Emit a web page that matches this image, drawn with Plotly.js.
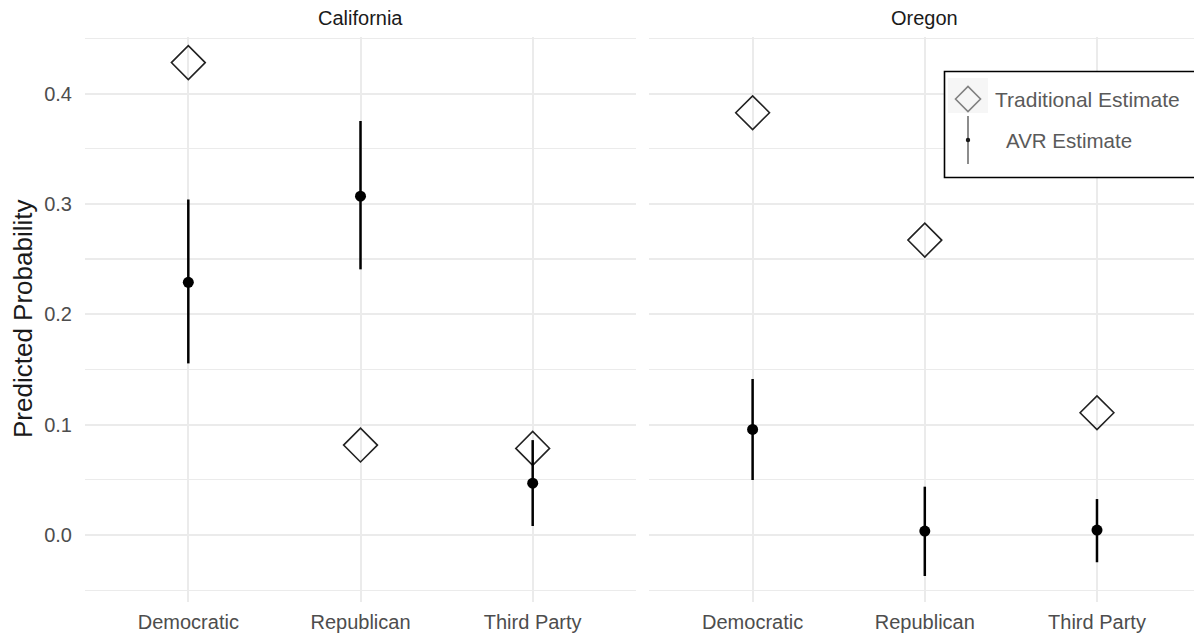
<!DOCTYPE html>
<html>
<head>
<meta charset="utf-8">
<script src="https://cdn.plot.ly/plotly-3.0.1.min.js"></script>
<style>html,body{margin:0;padding:0;background:#fff;}#chart{width:1194px;height:635px;}</style>
</head>
<body>
<div id="chart"></div>
<script>
// ---- data ----
const categories = ['Democratic', 'Republican', 'Third Party'];
const panels = ['California', 'Oregon'];

const caTraditional = [0.428, 0.0815, 0.0785];
const caAVR = [0.229, 0.307, 0.047];
const caLower = [0.1555, 0.2407, 0.0082];
const caUpper = [0.304, 0.375, 0.086];

const orTraditional = [0.3826, 0.2672, 0.1108];
const orAVR = [0.0957, 0.0036, 0.0045];
const orLower = [0.0498, -0.0371, -0.0247];
const orUpper = [0.1413, 0.0438, 0.0326];

const yTickVals = [0.0, 0.1, 0.2, 0.3, 0.4];
const yTickText = ['0.0', '0.1', '0.2', '0.3', '0.4'];
const legendLabels = ['Traditional Estimate', 'AVR Estimate'];

// ---- layout helpers ----
const W = 1194, H = 635;
const px = x => x / W;
const py = y => 1 - y / H;
const FONT = 'Liberation Sans, Arial, Helvetica, sans-serif';

function tradTrace(vals, xa, ya) {
  return {
    type: 'scatter', mode: 'markers', x: categories, y: vals,
    xaxis: xa, yaxis: ya, showlegend: false, hoverinfo: 'skip',
    marker: {symbol: 'diamond-open', size: 26, color: '#222222', line: {width: 1.6, color: '#222222'}}
  };
}
function avrTrace(vals, lo, hi, xa, ya) {
  return {
    type: 'scatter', mode: 'markers', x: categories, y: vals,
    xaxis: xa, yaxis: ya, showlegend: false, hoverinfo: 'skip',
    marker: {symbol: 'circle', size: 11, color: '#000000'},
    error_y: {
      type: 'data', symmetric: false,
      array: hi.map((h, i) => h - vals[i]),
      arrayminus: lo.map((l, i) => vals[i] - l),
      width: 0, thickness: 2.5, color: '#000000'
    }
  };
}

const data = [
  tradTrace(caTraditional, 'x', 'y'),
  avrTrace(caAVR, caLower, caUpper, 'x', 'y'),
  tradTrace(orTraditional, 'x2', 'y2'),
  avrTrace(orAVR, orLower, orUpper, 'x2', 'y2')
];

const unit = (636 - 85) / 3.2;
const yRange = [-0.0604, 0.4513];
const yDomain = [1 - 601.7 / H, 1 - 36.9 / H];

function xAxis(domain, range) {
  return {
    type: 'category', categoryarray: categories, domain: domain, range: range,
    showgrid: true, gridcolor: '#ebebeb', gridwidth: 2, zeroline: false, showline: false,
    ticks: '', ticklabelstandoff: 6, automargin: false,
    tickfont: {family: FONT, size: 20, color: '#4d4d4d'}
  };
}
function yAxis(anchor, showLabels) {
  return {
    anchor: anchor, domain: yDomain, range: yRange,
    tickvals: yTickVals, ticktext: yTickText, showticklabels: showLabels,
    showgrid: true, gridcolor: '#ebebeb', gridwidth: 2, zeroline: false, showline: false,
    ticks: '', ticklabelstandoff: 12, automargin: false,
    minor: {tickvals: [-0.05, 0.05, 0.15, 0.25, 0.35, 0.45], showgrid: true, gridcolor: '#ebebeb', gridwidth: 1.2},
    tickfont: {family: FONT, size: 20, color: '#4d4d4d'}
  };
}

const yA = yAxis('x', true);
yA.showticklabels = true;
const yB = yAxis('x2', false);
yB.matches = 'y';

const rightWidth = W - 649.3;

const layout = {
  width: W, height: H,
  margin: {l: 0, r: 0, t: 0, b: 0},
  paper_bgcolor: '#ffffff', plot_bgcolor: 'rgba(0,0,0,0)',
  showlegend: false, hovermode: false,
  font: {family: FONT},
  xaxis: xAxis([px(85), px(636)], [-0.6, 2.6]),
  xaxis2: xAxis([px(649.3), 1], [-0.6, -0.6 + rightWidth / unit]),
  yaxis: yA,
  yaxis2: yB,
  annotations: [
    {text: 'Predicted Probability', xref: 'paper', yref: 'paper', x: px(23), y: py(319), xanchor: 'center', yanchor: 'middle',
     textangle: -90, showarrow: false, font: {family: FONT, size: 26, color: '#1a1a1a'}},
    {text: panels[0], xref: 'paper', yref: 'paper', x: px(360.5), y: py(18), xanchor: 'center', yanchor: 'middle',
     showarrow: false, font: {family: FONT, size: 20, color: '#1a1a1a'}},
    {text: panels[1], xref: 'paper', yref: 'paper', x: px(924.5), y: py(18), xanchor: 'center', yanchor: 'middle',
     showarrow: false, font: {family: FONT, size: 20, color: '#1a1a1a'}},
    {text: legendLabels[0], xref: 'paper', yref: 'paper', x: px(993), y: py(99), xanchor: 'left', yanchor: 'middle',
     showarrow: false, font: {family: FONT, size: 21, color: '#5a5a5a'}},
    {text: legendLabels[1], xref: 'paper', yref: 'paper', x: px(1004), y: py(140), xanchor: 'left', yanchor: 'middle',
     showarrow: false, font: {family: FONT, size: 20.5, color: '#5a5a5a'}}
  ],
  shapes: [
    {type: 'rect', xref: 'paper', yref: 'paper', x0: px(944.5), x1: px(1200), y0: py(177.5), y1: py(71.5),
     line: {color: '#000000', width: 1.6}, fillcolor: 'rgba(255,255,255,1)', layer: 'above'},
    {type: 'rect', xref: 'paper', yref: 'paper', x0: px(948), x1: px(988), y0: py(113), y1: py(78),
     line: {width: 0}, fillcolor: '#f6f6f6', layer: 'above'},
    {type: 'path', xref: 'paper', yref: 'paper', layer: 'above',
     path: `M ${px(955.5)} ${py(99)} L ${px(968)} ${py(86.5)} L ${px(980.5)} ${py(99)} L ${px(968)} ${py(111.5)} Z`,
     line: {color: '#808080', width: 1.6}},
    {type: 'line', xref: 'paper', yref: 'paper', x0: px(968), x1: px(968), y0: py(116), y1: py(164),
     line: {color: '#707070', width: 1.6}, layer: 'above'},
    {type: 'circle', xref: 'paper', yref: 'paper', x0: px(965.8), x1: px(970.2), y0: py(142.2), y1: py(137.8),
     line: {width: 0}, fillcolor: '#1a1a1a', layer: 'above'}
  ]
};

Plotly.newPlot('chart', data, layout, {staticPlot: true, displayModeBar: false});
</script>
</body>
</html>
